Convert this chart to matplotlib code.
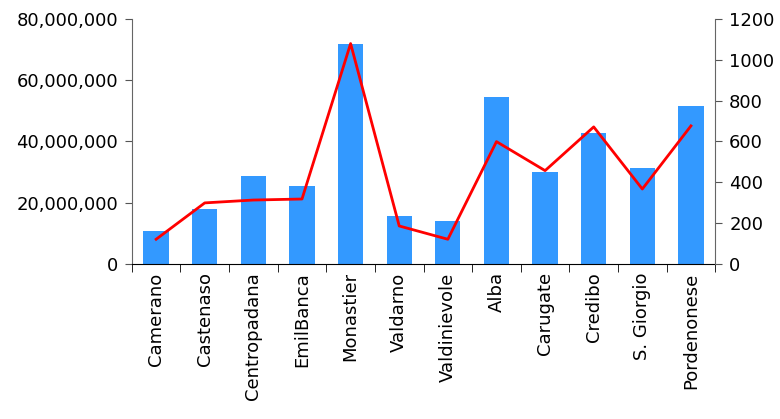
import matplotlib.pyplot as plt
import numpy as np
from matplotlib.ticker import FuncFormatter, FixedLocator

banks = ['Camerano', 'Castenaso', 'Centropadana', 'EmilBanca', 'Monastier', 'Valdarno',
         'Valdinievole', 'Alba', 'Carugate', 'Credibo', 'S. Giorgio', 'Pordenonese']
bar_values = [10.9e6, 18.0e6, 28.7e6, 25.5e6, 71.8e6, 15.7e6,
              14.0e6, 54.5e6, 30.0e6, 42.8e6, 31.3e6, 51.6e6]
line_values = [121, 299, 313, 318, 1079, 186, 121, 599, 457, 671, 367, 676]

plt.rcParams['font.family'] = ['DejaVu Sans']
plt.rcParams['font.size'] = 13

fig = plt.figure(figsize=(7.8, 4.19), dpi=100)
ax = fig.add_axes([0.169, 0.370, 0.748, 0.585])
x = np.arange(len(banks))
ax.bar(x, bar_values, width=0.52, color='#3399FF', zorder=2)
ax.set_xlim(-0.5, len(banks) - 0.5)
ax.set_ylim(0, 80e6)
ax.set_yticks(np.arange(0, 80e6 + 1, 20e6))
ax.yaxis.set_major_formatter(FuncFormatter(lambda v, p: f'{int(v):,}'))
ax.set_xticks(x)
ax.set_xticklabels(banks, rotation=90)
ax.xaxis.set_minor_locator(FixedLocator(np.arange(-0.5, len(banks), 1)))
ax.tick_params(axis='x', which='major', length=0, pad=6)
ax.tick_params(axis='x', which='minor', length=6, color='black')
ax.tick_params(axis='y', length=5, color='#555555', pad=5)
ax.spines['top'].set_visible(False)
ax.spines['right'].set_visible(False)
ax.spines['left'].set_color('#666666')

ax2 = ax.twinx()
ax2.plot(x, line_values, color='red', linewidth=2, zorder=3)
ax2.set_ylim(0, 1200)
ax2.set_yticks(np.arange(0, 1201, 200))
ax2.tick_params(axis='y', length=5, color='#555555', pad=5)
ax2.spines['top'].set_visible(False)
ax2.spines['left'].set_visible(False)
ax2.spines['bottom'].set_visible(False)
ax2.spines['right'].set_color('#666666')

fig.savefig('out.png', dpi=100)
